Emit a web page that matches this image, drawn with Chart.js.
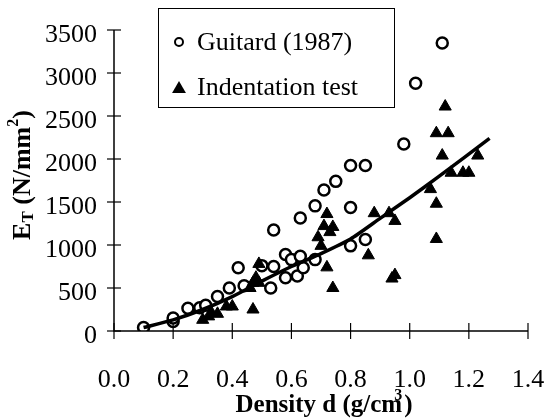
<!DOCTYPE html>
<html>
<head>
<meta charset="utf-8">
<script src="https://cdn.jsdelivr.net/npm/chart.js@4.4.0/dist/chart.umd.min.js"></script>
<style>
  html, body { margin: 0; padding: 0; background: #fff; }
  #wrap { width: 547px; height: 419px; }
</style>
</head>
<body>
<div id="wrap"><canvas id="chart" width="547" height="419"></canvas></div>
<script>
// Guitard (1987) - open circles (density g/cm3, E_T N/mm2)
var guitardD = [0.10, 0.20, 0.20, 0.25, 0.29, 0.31, 0.35, 0.39, 0.42, 0.44, 0.50, 0.53, 0.54, 0.54,
                0.58, 0.58, 0.60, 0.62, 0.63, 0.63, 0.64, 0.68, 0.68, 0.71, 0.75, 0.80, 0.80, 0.80,
                0.85, 0.85, 0.98, 1.02, 1.11];
var guitardE = [40, 110, 150, 265, 270, 300, 400, 500, 735, 525, 760, 500, 1175, 750,
                890, 620, 830, 640, 870, 1315, 735, 830, 1455, 1640, 1740, 1925, 1435, 990,
                1925, 1065, 2175, 2880, 3350];

// Indentation test - filled triangles
var indentD = [0.30, 0.32, 0.33, 0.35, 0.38, 0.40, 0.46, 0.47, 0.47, 0.48, 0.49, 0.49,
               0.69, 0.70, 0.72, 0.71, 0.74, 0.73, 0.72, 0.74,
               0.86, 0.88, 0.93, 0.95, 0.95, 0.94,
               1.07, 1.09, 1.09, 1.09, 1.13, 1.11, 1.12, 1.14, 1.18, 1.20, 1.23];
var indentE = [130, 170, 210, 200, 285, 285, 500, 560, 250, 620, 780, 560,
               1090, 990, 1360, 1220, 1210, 1150, 740, 500,
               880, 1370, 1370, 1280, 650, 610,
               1650, 1480, 1070, 2300, 2300, 2040, 2610, 1840, 1840, 1840, 2040];

// fitted curve
var fitD = [0.10, 0.20, 0.30, 0.40, 0.50, 0.60, 0.70, 0.80, 0.90, 1.00, 1.10, 1.27];
var fitE = [40, 130, 250, 400, 580, 750, 900, 1070, 1310, 1550, 1800, 2240];

var xTicks = [0, 0.2, 0.4, 0.6, 0.8, 1.0, 1.2, 1.4];
var yTicks = [0, 500, 1000, 1500, 2000, 2500, 3000, 3500];

var serif = '"Liberation Serif", "DejaVu Serif", serif';

function pts(xs, ys) {
    var out = [];
    for (var i = 0; i < xs.length; i++) out.push({x: xs[i], y: ys[i]});
    return out;
}

function triangle(ctx, x, y, r) {
    ctx.beginPath();
    ctx.moveTo(x, y - r);
    ctx.lineTo(x + r * 0.866, y + r * 0.5);
    ctx.lineTo(x - r * 0.866, y + r * 0.5);
    ctx.closePath();
    ctx.fill();
}

var decor = {
    id: 'decor',
    afterDraw: function (chart) {
        var ctx = chart.ctx;
        var a = chart.chartArea;
        var xs = chart.scales.x, ys = chart.scales.y;
        ctx.save();
        ctx.strokeStyle = '#000';
        ctx.fillStyle = '#000';
        ctx.lineWidth = 1.5;
        // axes
        ctx.beginPath();
        ctx.moveTo(a.left, a.top);
        ctx.lineTo(a.left, a.bottom);
        ctx.lineTo(a.right, a.bottom);
        ctx.stroke();
        // tick marks crossing axes
        ctx.lineWidth = 1.2;
        yTicks.forEach(function (v) {
            var py = ys.getPixelForValue(v);
            ctx.beginPath();
            ctx.moveTo(a.left - 7, py);
            ctx.lineTo(a.left + 7, py);
            ctx.stroke();
        });
        xTicks.forEach(function (v) {
            var px = xs.getPixelForValue(v);
            ctx.beginPath();
            ctx.moveTo(px, a.bottom - 8);
            ctx.lineTo(px, a.bottom + 8);
            ctx.stroke();
        });

        // legend box
        ctx.lineWidth = 1;
        ctx.strokeRect(158.5, 8.5, 236, 99);
        ctx.font = '26px ' + serif;
        ctx.textBaseline = 'middle';
        ctx.textAlign = 'left';
        ctx.fillText('Guitard (1987)', 197, 43);
        ctx.fillText('Indentation test', 197, 88);
        ctx.lineWidth = 2;
        ctx.beginPath();
        ctx.arc(179, 42, 4, 0, Math.PI * 2);
        ctx.stroke();
        triangle(ctx, 179, 89, 8);

        // x title
        ctx.font = 'bold 25px ' + serif;
        ctx.textBaseline = 'alphabetic';
        var t1 = 'Density d (g/cm';
        var w1 = ctx.measureText(t1).width;
        var w2 = ctx.measureText(')').width;
        var x0 = 323 - (w1 + w2) / 2;
        ctx.fillText(t1, x0, 412);
        ctx.fillText(')', x0 + w1 + 2, 412);
        ctx.font = 'bold 16px ' + serif;
        ctx.fillText('3', x0 + w1 - 8, 400);

        // y title (rotated)
        ctx.translate(30, 175);
        ctx.rotate(-Math.PI / 2);
        ctx.font = 'bold 26px ' + serif;
        var sE = ctx.measureText('E').width;
        ctx.font = 'bold 17px ' + serif;
        var sT = ctx.measureText('T').width;
        ctx.font = 'bold 26px ' + serif;
        var sMid = ctx.measureText(' (N/mm').width;
        var sEnd = ctx.measureText(')').width;
        ctx.font = 'bold 16px ' + serif;
        var s2 = ctx.measureText('2').width;
        var total = sE + sT + sMid + s2 + sEnd;
        var cx = -total / 2;
        ctx.font = 'bold 26px ' + serif;
        ctx.fillText('E', cx, 0); cx += sE;
        ctx.font = 'bold 17px ' + serif;
        ctx.fillText('T', cx, 3); cx += sT;
        ctx.font = 'bold 26px ' + serif;
        ctx.fillText(' (N/mm', cx, 0); cx += sMid;
        ctx.font = 'bold 16px ' + serif;
        ctx.fillText('2', cx, -12); cx += s2;
        ctx.font = 'bold 26px ' + serif;
        ctx.fillText(')', cx, 0);
        ctx.restore();
    }
};

new Chart(document.getElementById('chart'), {
    type: 'scatter',
    data: {
        datasets: [
            {
                label: 'fit',
                type: 'line',
                data: pts(fitD, fitE),
                borderColor: '#000',
                borderWidth: 3.5,
                pointRadius: 0,
                tension: 0.2,
                fill: false
            },
            {
                label: 'Indentation test',
                data: pts(indentD, indentE),
                pointStyle: 'triangle',
                pointRadius: 7,
                backgroundColor: '#000',
                borderColor: '#000',
                borderWidth: 1
            },
            {
                label: 'Guitard (1987)',
                data: pts(guitardD, guitardE),
                pointStyle: 'circle',
                pointRadius: 5.5,
                backgroundColor: '#fff',
                borderColor: '#000',
                borderWidth: 2.5
            }
        ]
    },
    options: {
        responsive: false,
        animation: false,
        layout: { padding: { top: 30, right: 0, left: 0, bottom: 0 } },
        plugins: { legend: { display: false }, tooltip: { enabled: false } },
        scales: {
            x: {
                type: 'linear',
                min: 0, max: 1.4,
                afterFit: function (s) { s.height = 88; s.paddingRight = 19; },
                afterBuildTicks: function (s) { s.ticks = xTicks.map(function (v) { return {value: v}; }); },
                grid: { display: false },
                border: { display: false },
                ticks: {
                    color: '#000',
                    font: { family: serif, size: 26 },
                    padding: 26,
                    maxRotation: 0,
                    callback: function (v) { return v.toFixed(1); }
                }
            },
            y: {
                type: 'linear',
                min: 0, max: 3500,
                afterFit: function (s) { s.width = 114; },
                afterBuildTicks: function (s) { s.ticks = yTicks.map(function (v) { return {value: v}; }); },
                grid: { display: false },
                border: { display: false },
                ticks: {
                    color: '#000',
                    font: { family: serif, size: 26 },
                    padding: 9,
                    labelOffset: 5,
                    callback: function (v) { return String(v); }
                }
            }
        }
    },
    plugins: [decor]
});
</script>
</body>
</html>
